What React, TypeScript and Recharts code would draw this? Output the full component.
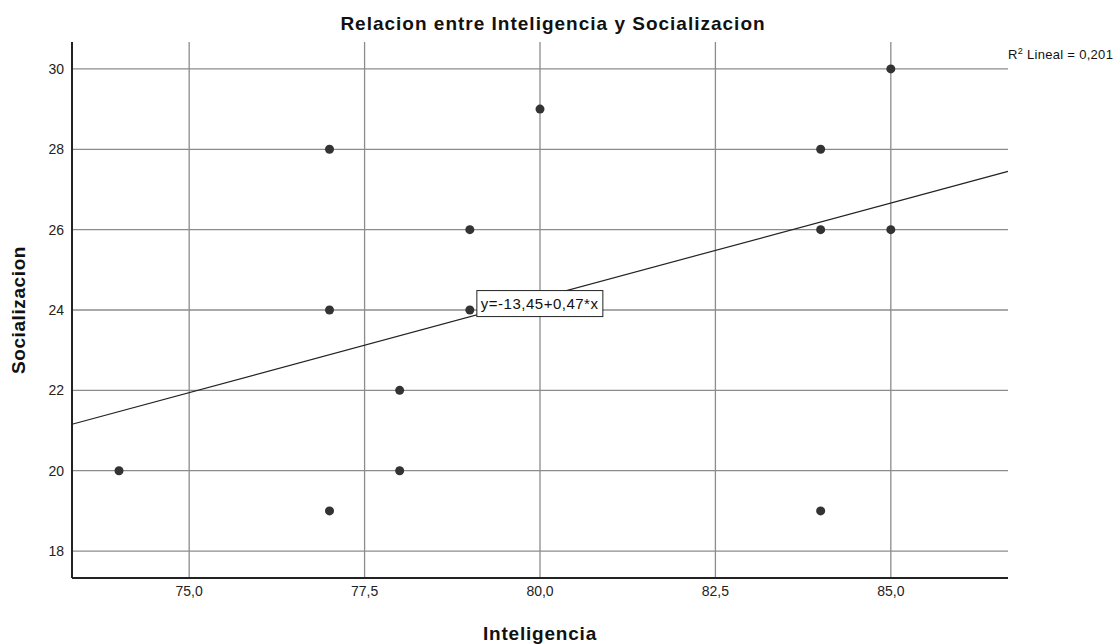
import React from "react";
import {
  ScatterChart,
  Scatter,
  XAxis,
  YAxis,
  ZAxis,
  ReferenceLine,
  ReferenceDot,
} from "recharts";

// observed cases (Inteligencia, Socializacion)
const inteligencia = [74, 77, 77, 77, 78, 78, 79, 79, 80, 84, 84, 84, 85, 85];
const socializacion = [20, 28, 24, 19, 22, 20, 26, 24, 29, 28, 26, 19, 30, 26];

const xTicks = [75, 77.5, 80, 82.5, 85];
const yTicks = [18, 20, 22, 24, 26, 28, 30];

// fit line (printed as y=-13,45+0,47*x, drawn with unrounded values)
const intercept = -13.44;
const slope = 0.4718;
const rSquared = "0,201";
const xDomain = [73.33, 86.67];
const yDomain = [17.33, 30.67];

const points = inteligencia.map((x, i) => ({ x, y: socializacion[i] }));

const FONT = "'Liberation Sans', Arial, sans-serif";
const GRID = "#8c8c8c";

const fmtX = (v: number) => v.toFixed(1).replace(".", ",");

const EquationBox = (props: any) => {
  const { cx, cy } = props;
  return (
    <g>
      <rect x={cx} y={cy - 13} width={126} height={26} fill="#fff" stroke="#222" strokeWidth={1} />
      <text x={cx + 4} y={cy + 5} fontSize={15} letterSpacing={0.5} fontFamily={FONT} fill="#111">
        y=-13,45+0,47*x
      </text>
    </g>
  );
};

export default function App() {
  return (
    <div style={{ position: "absolute", left: 0, top: 0, width: 1120, height: 644, background: "#fff" }}>
      <div
        style={{
          position: "absolute",
          left: 0,
          width: 1106,
          top: 14,
          textAlign: "center",
          fontFamily: FONT,
          fontWeight: "bold",
          fontSize: 19,
          letterSpacing: 1,
          color: "#111",
          lineHeight: "20px",
        }}
      >
        Relacion entre Inteligencia y Socializacion
      </div>
      <div
        style={{
          position: "absolute",
          left: 1008,
          top: 46,
          fontFamily: FONT,
          fontSize: 13,
          letterSpacing: 0.3,
          color: "#111",
          whiteSpace: "nowrap",
        }}
      >
        R<sup style={{ fontSize: 9 }}>2</sup> Lineal = {rSquared}
      </div>
      <ScatterChart
        width={1120}
        height={644}
        margin={{ top: 42, right: 112, bottom: 0, left: 0 }}
      >
        {yTicks.map((t) => (
          <ReferenceLine key={"h" + t} y={t} stroke={GRID} strokeWidth={1.3} />
        ))}
        {xTicks.map((t) => (
          <ReferenceLine key={"v" + t} x={t} stroke={GRID} strokeWidth={1.3} />
        ))}
        <XAxis
          type="number"
          dataKey="x"
          domain={xDomain}
          ticks={xTicks}
          tickFormatter={fmtX}
          allowDataOverflow
          tickLine={false}
          axisLine={{ stroke: "#222", strokeWidth: 2 }}
          height={66}
          tick={{ fill: "#222", fontSize: 14, fontFamily: FONT }}
          label={{
            value: "Inteligencia",
            position: "insideBottom",
            offset: 4,
            style: { fontFamily: FONT, fontWeight: "bold", fontSize: 19, letterSpacing: 0.8, fill: "#111" },
          }}
        />
        <YAxis
          type="number"
          dataKey="y"
          domain={yDomain}
          ticks={yTicks}
          allowDataOverflow
          tickLine={false}
          axisLine={{ stroke: "#222", strokeWidth: 2 }}
          width={72}
          tick={{ fill: "#222", fontSize: 14, fontFamily: FONT }}
          label={{
            value: "Socializacion",
            angle: -90,
            position: "insideLeft",
            offset: 18,
            style: {
              textAnchor: "middle",
              fontFamily: FONT,
              fontWeight: "bold",
              fontSize: 19,
              letterSpacing: 0.6,
              fill: "#111",
            },
          }}
        />
        <ZAxis range={[80, 80]} />
        <ReferenceLine
          segment={[
            { x: xDomain[0], y: intercept + slope * xDomain[0] },
            { x: xDomain[1], y: intercept + slope * xDomain[1] },
          ]}
          stroke="#222"
          strokeWidth={1.2}
        />
        <Scatter data={points} fill="#333" isAnimationActive={false} />
        <ReferenceDot x={79.1} y={24.16} r={0} shape={EquationBox} ifOverflow="visible" />
      </ScatterChart>
    </div>
  );
}
